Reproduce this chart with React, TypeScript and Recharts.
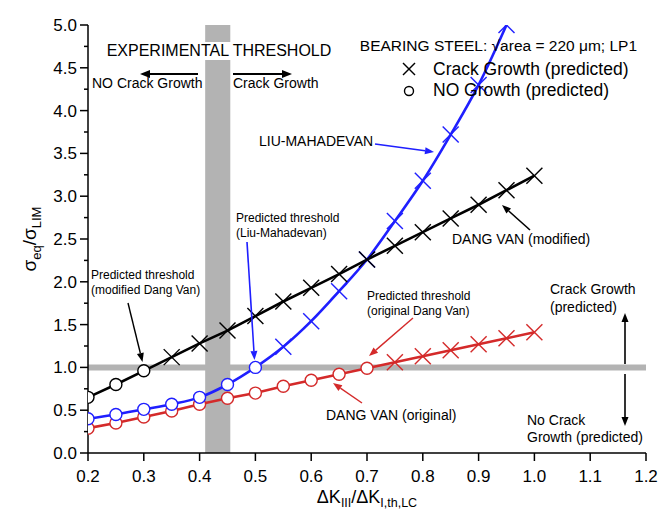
import React from 'react';
import { ComposedChart, Line, XAxis, YAxis, ReferenceArea, ReferenceLine } from 'recharts';

const xValues = [0.2, 0.25, 0.3, 0.35, 0.4, 0.45, 0.5, 0.55, 0.6, 0.65, 0.7, 0.75, 0.8, 0.85, 0.9, 0.95, 1.0];
const modifiedDangVan = [0.65, 0.8, 0.96, 1.12, 1.28, 1.43, 1.6, 1.77, 1.93, 2.09, 2.26, 2.42, 2.58, 2.74, 2.9, 3.07, 3.24];
const originalDangVan = [0.29, 0.35, 0.42, 0.49, 0.57, 0.64, 0.7, 0.78, 0.85, 0.92, 0.99, 1.06, 1.13, 1.2, 1.27, 1.34, 1.41];
const liuMahadevan = [0.4, 0.45, 0.51, 0.57, 0.65, 0.8, 1.0, 1.24, 1.54, 1.89, 2.26, 2.71, 3.18, 3.72, 4.3, 5.0];

const xTicks = [0.2, 0.3, 0.4, 0.5, 0.6, 0.7, 0.8, 0.9, 1.0, 1.1, 1.2];
const yTicks = [0, 0.25, 0.5, 0.75, 1, 1.25, 1.5, 1.75, 2, 2.25, 2.5, 2.75, 3, 3.25, 3.5, 3.75, 4, 4.25, 4.5, 4.75, 5];
const yMajor = [0, 0.5, 1, 1.5, 2, 2.5, 3, 3.5, 4, 4.5, 5];

const experimentalBand = [0.41, 0.455];
const limitRatio = 1.0;

const toRows = (ys: number[]) => ys.map((y, i) => ({ x: xValues[i], y }));
const blackRows = toRows(modifiedDangVan);
const redRows = toRows(originalDangVan);
const blueRows = toRows(liuMahadevan);

const FONT = 'Liberation Sans, Arial, sans-serif';
const BLACK = '#000000';
const RED = '#d42a2a';
const BLUE = '#1f1fff';
const GRAY = '#b3b3b3';

const makeDot = (color: string) => (props: any) => {
  const { cx, cy, payload, index } = props;
  if (cx == null || cy == null) return <g key={`d-${index}`} />;
  if (payload.y <= limitRatio) {
    return <circle key={`d-${index}`} cx={cx} cy={cy} r={6} fill="#fff" stroke={color} strokeWidth={1.4} />;
  }
  const s = 8;
  return (
    <g key={`d-${index}`} stroke={color} strokeWidth={1.4}>
      <line x1={cx - s} y1={cy - s} x2={cx + s} y2={cy + s} />
      <line x1={cx - s} y1={cy + s} x2={cx + s} y2={cy - s} />
    </g>
  );
};

const BottomTick = (props: any) => {
  const { x, y, payload } = props;
  return (
    <g>
      <line x1={x} y1={y} x2={x} y2={y + 8} stroke="#000" strokeWidth={1.5} />
      <text x={x} y={y + 29} textAnchor="middle" fontSize={17} fontFamily={FONT} fill="#000">
        {payload.value.toFixed(1)}
      </text>
    </g>
  );
};

const TopTick = (props: any) => {
  const { x, y } = props;
  return <line x1={x} y1={y} x2={x} y2={y + 8} stroke="#000" strokeWidth={1.5} />;
};

const LeftTick = (props: any) => {
  const { x, y, payload } = props;
  const major = yMajor.includes(payload.value);
  return (
    <g>
      <line x1={x - (major ? 8 : 4)} y1={y} x2={x} y2={y} stroke="#000" strokeWidth={1.5} />
      {major && (
        <text x={x - 11} y={y + 6} textAnchor="end" fontSize={17} fontFamily={FONT} fill="#000">
          {payload.value.toFixed(1)}
        </text>
      )}
    </g>
  );
};

const RightTick = (props: any) => {
  const { x, y, payload } = props;
  const major = yMajor.includes(payload.value);
  return <line x1={x - (major ? 8 : 4)} y1={y} x2={x} y2={y} stroke="#000" strokeWidth={1.5} />;
};

const Arrow = ({ x1, y1, x2, y2, color = '#000', w = 1.4, head = 9, hw = 3.5 }: any) => {
  const a = Math.atan2(y2 - y1, x2 - x1);
  const bx = x2 - head * Math.cos(a);
  const by = y2 - head * Math.sin(a);
  const px = -Math.sin(a) * hw;
  const py = Math.cos(a) * hw;
  return (
    <g>
      <line x1={x1} y1={y1} x2={bx} y2={by} stroke={color} strokeWidth={w} />
      <polygon points={`${x2},${y2} ${bx + px},${by + py} ${bx - px},${by - py}`} fill={color} />
    </g>
  );
};

const Overlay = () => (
  <svg width={664} height={507} style={{ position: 'absolute', left: 0, top: 0, pointerEvents: 'none' }}>
    <g transform="translate(-8,-8)" fontFamily={FONT}>
      <rect x={100} y={42} width={236} height={18} fill="#fff" />
      <text x={219} y={56} textAnchor="middle" fontSize={16} fill="#000">EXPERIMENTAL THRESHOLD</text>
      <Arrow x1={198} y1={74} x2={140} y2={74} w={2} head={10} hw={4} />
      <Arrow x1={233} y1={74} x2={292} y2={74} w={2} head={10} hw={4} />
      <text x={92} y={88} fontSize={14} fill="#000">NO Crack Growth</text>
      <text x={233} y={88} fontSize={14} fill="#000">Crack Growth</text>

      <text x={637} y={51} textAnchor="end" fontSize={15.5} fill="#000">BEARING STEEL: √area = 220 μm; LP1</text>
      <g stroke="#000" strokeWidth={1.4}>
        <line x1={403} y1={63} x2={415} y2={75} />
        <line x1={403} y1={75} x2={415} y2={63} />
      </g>
      <circle cx={409} cy={91} r={4.5} fill="none" stroke="#000" strokeWidth={1.4} />
      <text x={433} y={75} fontSize={17.5} fill="#000">Crack Growth (predicted)</text>
      <text x={433} y={96} fontSize={17.5} fill="#000">NO Growth (predicted)</text>

      <text x={259} y={146} fontSize={14} fill="#000">LIU-MAHADEVAN</text>
      <Arrow x1={375} y1={144} x2={434} y2={152} color={BLUE} w={1.6} />

      <text x={236} y={222} fontSize={12} fill="#000">Predicted threshold</text>
      <text x={236} y={237} fontSize={12} fill="#000">(Liu-Mahadevan)</text>
      <Arrow x1={247} y1={242} x2={254.5} y2={360} color={BLUE} w={1.6} />

      <text x={91} y={279} fontSize={12} fill="#000">Predicted threshold</text>
      <text x={91} y={294} fontSize={12} fill="#000">(modified Dang Van)</text>
      <Arrow x1={128} y1={303} x2={142.5} y2={362} color={BLACK} w={1.4} />

      <text x={452} y={244} fontSize={14} fill="#000">DANG VAN (modified)</text>
      <Arrow x1={530} y1={230} x2={502} y2={205} color={BLACK} w={1.6} />

      <text x={367} y={300} fontSize={12} fill="#000">Predicted threshold</text>
      <text x={367} y={315} fontSize={12} fill="#000">(original Dang Van)</text>
      <Arrow x1={413} y1={318} x2={369} y2={356} color={RED} w={1.4} />

      <text x={326} y={420} fontSize={14} fill="#000">DANG VAN (original)</text>
      <Arrow x1={362} y1={403} x2={333} y2={383} color={RED} w={1.4} />

      <text x={550} y={294} fontSize={14} fill="#000">Crack Growth</text>
      <text x={550} y={312} fontSize={14} fill="#000">(predicted)</text>
      <Arrow x1={625} y1={364} x2={625} y2={313} w={1.6} />
      <Arrow x1={625} y1={374} x2={625} y2={426} w={1.6} />
      <text x={527} y={425} fontSize={14} fill="#000">No Crack</text>
      <text x={527} y={442} fontSize={14} fill="#000">Growth (predicted)</text>

      <text transform="translate(36,239) rotate(-90)" textAnchor="middle" fontSize={19} fill="#000">
        σ<tspan dy={5} fontSize={13}>eq</tspan>
        <tspan dy={-5}>/σ</tspan>
        <tspan dy={5} fontSize={13}>LIM</tspan>
      </text>
      <text x={367} y={503} textAnchor="middle" fontSize={18} fill="#000">
        ΔK<tspan dy={4} fontSize={12.5}>III</tspan>
        <tspan dy={-4}>/ΔK</tspan>
        <tspan dy={4} fontSize={12.5}>I,th,LC</tspan>
      </text>
    </g>
  </svg>
);

export default function App() {
  return (
    <div style={{ position: 'relative', width: 664, height: 507, background: '#fff' }}>
      <ComposedChart width={664} height={507} margin={{ top: 17, right: 26, bottom: 0, left: 0 }}>
        <XAxis
          xAxisId="b"
          dataKey="x"
          type="number"
          domain={[0.2, 1.2]}
          ticks={xTicks}
          allowDataOverflow
          height={62}
          tickSize={0}
          tickMargin={0}
          tickLine={false}
          tick={<BottomTick />}
          axisLine={{ stroke: '#000', strokeWidth: 1.5 }}
          interval={0}
        />
        <XAxis
          xAxisId="t"
          orientation="top"
          dataKey="x"
          type="number"
          domain={[0.2, 1.2]}
          ticks={xTicks}
          allowDataOverflow
          height={0}
          tickSize={0}
          tickMargin={0}
          tickLine={false}
          tick={<TopTick />}
          axisLine={{ stroke: '#000', strokeWidth: 1.5 }}
          interval={0}
        />
        <YAxis
          yAxisId="l"
          type="number"
          domain={[0, 5]}
          ticks={yTicks}
          allowDataOverflow
          width={80}
          tickSize={0}
          tickMargin={0}
          tickLine={false}
          tick={<LeftTick />}
          axisLine={{ stroke: '#000', strokeWidth: 1.5 }}
          interval={0}
        />
        <YAxis
          yAxisId="r"
          orientation="right"
          type="number"
          domain={[0, 5]}
          ticks={yTicks}
          allowDataOverflow
          width={0}
          tickSize={0}
          tickMargin={0}
          tickLine={false}
          tick={<RightTick />}
          axisLine={{ stroke: '#000', strokeWidth: 1.5 }}
          interval={0}
        />
        <ReferenceArea
          xAxisId="b"
          yAxisId="l"
          x1={experimentalBand[0]}
          x2={experimentalBand[1]}
          y1={0}
          y2={5}
          fill={GRAY}
          fillOpacity={1}
          stroke="none"
        />
        <ReferenceLine xAxisId="b" yAxisId="l" y={limitRatio} stroke={GRAY} strokeWidth={6} />
        <Line
          xAxisId="b"
          yAxisId="l"
          data={redRows}
          dataKey="y"
          type="linear"
          stroke={RED}
          strokeWidth={2.6}
          dot={makeDot(RED)}
          isAnimationActive={false}
        />
        <Line
          xAxisId="b"
          yAxisId="l"
          data={blueRows}
          dataKey="y"
          type="monotone"
          stroke={BLUE}
          strokeWidth={2.6}
          dot={makeDot(BLUE)}
          isAnimationActive={false}
        />
        <Line
          xAxisId="b"
          yAxisId="l"
          data={blackRows}
          dataKey="y"
          type="linear"
          stroke={BLACK}
          strokeWidth={2.6}
          dot={makeDot(BLACK)}
          isAnimationActive={false}
        />
      </ComposedChart>
      <Overlay />
    </div>
  );
}
